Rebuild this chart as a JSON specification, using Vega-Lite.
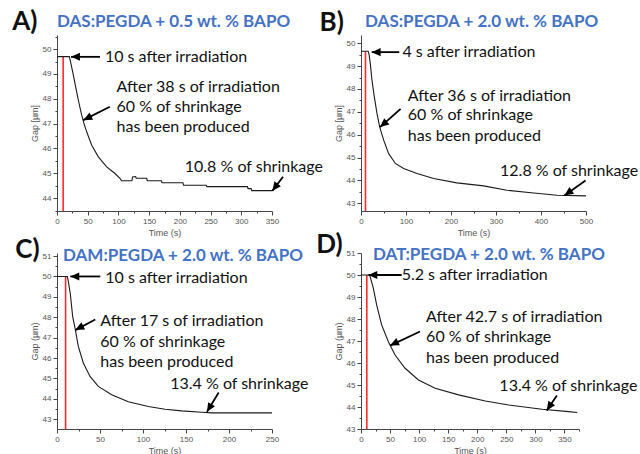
{
  "$schema": "https://vega.github.io/schema/vega-lite/v6.json",
  "padding": {"left": 12, "top": 9, "right": 0, "bottom": 0},
  "background": "white",
  "config": {
    "view": {"stroke": null},
    "axis": {"grid": false, "labelFont": "Liberation Sans", "labelFontSize": 8, "labelColor": "#555", "titleFont": "Liberation Sans", "titleFontSize": 9, "titleColor": "#555", "titleFontWeight": "normal", "domainColor": "#444", "tickColor": "#444", "labelFlush": false, "labelOverlap": false, "labelPadding": 2, "titlePadding": 3, "tickCount": 100}
  },
  "datasets": {
    "curveA": [
      {"t":0,"gap":49.7},{"t":20,"gap":49.7},{"t":22,"gap":49.5},{"t":26.6,"gap":48.95},{"t":32,"gap":48.28},{"t":36,"gap":47.8},{"t":40.2,"gap":47.34},{"t":44,"gap":47.0},{"t":48.3,"gap":46.67},{"t":56.5,"gap":46.13},{"t":67.3,"gap":45.66},{"t":80.9,"gap":45.26},{"t":94.4,"gap":44.99},{"t":102.5,"gap":44.79},{"t":105.2,"gap":44.7},{"t":122,"gap":44.7},{"t":123,"gap":44.85},{"t":128,"gap":44.87},{"t":129,"gap":44.8},{"t":146,"gap":44.8},{"t":147,"gap":44.7},{"t":170,"gap":44.7},{"t":171,"gap":44.62},{"t":205,"gap":44.62},{"t":206,"gap":44.52},{"t":243,"gap":44.52},{"t":244,"gap":44.46},{"t":310,"gap":44.46},{"t":311,"gap":44.38},{"t":316,"gap":44.38},{"t":317,"gap":44.3},{"t":350,"gap":44.3}
    ],
    "curveB": [
      {"t":0,"gap":49.65},{"t":16,"gap":49.65},{"t":18,"gap":49.5},{"t":20.7,"gap":49.11},{"t":24.4,"gap":48.38},{"t":29.6,"gap":47.65},{"t":35.6,"gap":46.92},{"t":41.5,"gap":46.34},{"t":50.4,"gap":45.76},{"t":61.5,"gap":45.17},{"t":76.3,"gap":44.74},{"t":94.8,"gap":44.52},{"t":124.4,"gap":44.3},{"t":161.5,"gap":44.08},{"t":213,"gap":43.89},{"t":272.6,"gap":43.76},{"t":324,"gap":43.57},{"t":383.7,"gap":43.45},{"t":435.6,"gap":43.35},{"t":500,"gap":43.32}
    ],
    "curveC": [
      {"t":0,"gap":50},{"t":12,"gap":50},{"t":13,"gap":49.8},{"t":15.5,"gap":49.14},{"t":18.2,"gap":48.04},{"t":21.3,"gap":47.39},{"t":24.8,"gap":46.57},{"t":30.6,"gap":45.76},{"t":38.4,"gap":45.1},{"t":48,"gap":44.61},{"t":63.6,"gap":44.2},{"t":82.9,"gap":43.86},{"t":106.2,"gap":43.62},{"t":125.6,"gap":43.49},{"t":145,"gap":43.41},{"t":168.3,"gap":43.34},{"t":180,"gap":43.31},{"t":250,"gap":43.31}
    ],
    "curveD": [
      {"t":0,"gap":50},{"t":15,"gap":50},{"t":17,"gap":49.8},{"t":21.2,"gap":49.4},{"t":26.9,"gap":48.64},{"t":35.5,"gap":47.73},{"t":47.1,"gap":46.97},{"t":58.6,"gap":46.36},{"t":75.9,"gap":45.76},{"t":98.8,"gap":45.23},{"t":127.6,"gap":44.85},{"t":167.8,"gap":44.55},{"t":213.8,"gap":44.27},{"t":254,"gap":44.09},{"t":311.4,"gap":43.9},{"t":357,"gap":43.79},{"t":372,"gap":43.75}
    ],
    "textA": [
      {"t":78,"gap":49.69,"label":"10 s after irradiation"},
      {"t":97,"gap":48.48,"label":"After 38 s of irradiation"},
      {"t":97,"gap":47.68,"label":"60 % of shrinkage"},
      {"t":97,"gap":46.87,"label":"has been produced"},
      {"t":208,"gap":45.26,"label":"10.8 % of shrinkage"}
    ],
    "textB": [
      {"t":92,"gap":49.61,"label":"4 s after irradiation"},
      {"t":104,"gap":47.71,"label":"After 36 s of irradiation"},
      {"t":104,"gap":46.84,"label":"60 % of shrinkage"},
      {"t":104,"gap":45.92,"label":"has been produced"},
      {"t":309,"gap":44.43,"label":"12.8 % of shrinkage"}
    ],
    "textC": [
      {"t":56.2,"gap":49.9,"label":"10 s after irradiation"},
      {"t":50.3,"gap":47.81,"label":"After 17 s of irradiation"},
      {"t":50.3,"gap":46.79,"label":"60 % of shrinkage"},
      {"t":50.3,"gap":45.81,"label":"has been produced"},
      {"t":131.7,"gap":44.75,"label":"13.4 % of shrinkage"}
    ],
    "textD": [
      {"t":70,"gap":50.02,"label":"5.2 s after irradiation"},
      {"t":112,"gap":48.08,"label":"After 42.7 s of irradiation"},
      {"t":112,"gap":47.17,"label":"60 % of shrinkage"},
      {"t":112,"gap":46.21,"label":"has been produced"},
      {"t":238,"gap":44.97,"label":"13.4 % of shrinkage"}
    ],
    "titleA": [{"t":0,"gap":51.1,"label":"DAS:PEGDA + 0.5 wt. % BAPO"}],
    "titleB": [{"t":9,"gap":50.93,"label":"DAS:PEGDA + 2.0 wt. % BAPO"}],
    "titleC": [{"t":7,"gap":51.0,"label":"DAM:PEGDA + 2.0 wt. % BAPO"}],
    "titleD": [{"t":20.6,"gap":50.91,"label":"DAT:PEGDA + 2.0 wt. % BAPO"}],
    "arrowA": [
      {"t":70,"gap":49.69,"t2":22.8,"gap2":49.69,"angle":270},
      {"t":86,"gap":47.68,"t2":42.8,"gap2":47.14,"angle":243.5},
      {"t":368,"gap":44.86,"t2":350.5,"gap2":44.29,"angle":217}
    ],
    "arrowB": [
      {"t":85,"gap":49.61,"t2":23.8,"gap2":49.61,"angle":270},
      {"t":88,"gap":47.13,"t2":42.2,"gap2":46.33,"angle":229.7},
      {"t":499,"gap":43.99,"t2":452,"gap2":43.34,"angle":235.3}
    ],
    "arrowC": [
      {"t":50.3,"gap":50.0,"t2":15.5,"gap2":50.0,"angle":270},
      {"t":44.5,"gap":47.89,"t2":21.3,"gap2":47.37,"angle":242},
      {"t":188,"gap":44.31,"t2":174.4,"gap2":43.36,"angle":211}
    ],
    "arrowD": [
      {"t":70,"gap":50,"t2":12.6,"gap2":50,"angle":270},
      {"t":101.5,"gap":47.43,"t2":50,"gap2":46.79,"angle":243.7},
      {"t":337,"gap":44.52,"t2":319.5,"gap2":43.84,"angle":213.7}
    ],
    "redA": [{"t":10,"gap":49.7}],
    "redB": [{"t":10,"gap":49.65}],
    "redC": [{"t":10,"gap":50}],
    "redD": [{"t":10,"gap":50}],
    "letterA": [{"t":-73,"gap":51.09,"label":"A)"}],
    "letterB": [{"t":-92,"gap":50.9,"label":"B)"}],
    "letterC": [{"t":-48.5,"gap":51.31,"label":"C)"}],
    "letterD": [{"t":-77,"gap":51.35,"label":"D)"}]
  },
  "columns": 2,
  "spacing": {"row": 42, "column": 89},
  "bounds": "flush",
  "concat": [
        {
          "width": 215, "height": 176,
          "layer": [
            {"data": {"name": "redA"}, "mark": {"type": "rule", "color": "#ff2a2a", "strokeWidth": 1.6},
             "encoding": {
               "x": {"field": "t", "type": "quantitative", "scale": {"domain": [0, 350], "nice": false},
                     "axis": {"title": "Time (s)", "tickCount": 100, "labelOverlap": false, "values": [0,25,50,75,100,125,150,175,200,225,250,275,300,325,350], "labelExpr": "datum.value % 50 === 0 ? '' + datum.value : ''", "tickSize": {"condition": {"test": "datum.value % 50 === 0", "value": 4}, "value": 2}}},
               "y": {"field": "gap", "type": "quantitative", "scale": {"domain": [43.48, 50.57], "nice": false, "zero": false},
                     "axis": {"title": "Gap [µm]", "tickCount": 100, "labelOverlap": false, "values": [43.5,44,44.5,45,45.5,46,46.5,47,47.5,48,48.5,49,49.5,50,50.5], "labelExpr": "datum.value % 1 === 0 ? '' + datum.value : ''", "tickSize": {"condition": {"test": "datum.value % 1 === 0", "value": 4}, "value": 2}}},
               "y2": {"value": "height"}}},
            {"data": {"name": "curveA"}, "mark": {"type": "line", "color": "#1a1a1a", "strokeWidth": 1.1},
             "encoding": {"x": {"field": "t", "type": "quantitative"}, "y": {"field": "gap", "type": "quantitative"}}},
            {"data": {"name": "arrowA"}, "mark": {"type": "rule", "color": "black", "strokeWidth": 1.8, "clip": false},
             "encoding": {"x": {"field": "t", "type": "quantitative"}, "y": {"field": "gap", "type": "quantitative"}, "x2": {"field": "t2"}, "y2": {"field": "gap2"}}},
            {"data": {"name": "arrowA"}, "mark": {"type": "point", "shape": "M0,0L-0.45,1L0.45,1Z", "filled": true, "color": "black", "opacity": 1, "size": 320, "clip": false},
             "encoding": {"x": {"field": "t2", "type": "quantitative"}, "y": {"field": "gap2", "type": "quantitative"}, "angle": {"field": "angle", "type": "quantitative", "scale": null}}},
            {"data": {"name": "textA"}, "mark": {"type": "text", "align": "left", "baseline": "middle", "font": "Lato", "fontSize": 16, "color": "#111", "clip": false},
             "encoding": {"x": {"field": "t", "type": "quantitative"}, "y": {"field": "gap", "type": "quantitative"}, "text": {"field": "label", "type": "nominal"}}},
            {"data": {"name": "titleA"}, "mark": {"type": "text", "align": "left", "baseline": "middle", "font": "Lato", "fontSize": 17, "fontWeight": "bold", "color": "#4472C4", "clip": false},
             "encoding": {"x": {"field": "t", "type": "quantitative"}, "y": {"field": "gap", "type": "quantitative"}, "text": {"field": "label", "type": "nominal"}}},
            {"data": {"name": "letterA"}, "mark": {"type": "text", "align": "left", "baseline": "middle", "font": "Lato", "fontSize": 26, "fontWeight": "bold", "color": "#111", "clip": false},
             "encoding": {"x": {"field": "t", "type": "quantitative"}, "y": {"field": "gap", "type": "quantitative"}, "text": {"field": "label", "type": "nominal"}}}
          ]
        },
        {
          "width": 225, "height": 176,
          "layer": [
            {"data": {"name": "redB"}, "mark": {"type": "rule", "color": "#ff2a2a", "strokeWidth": 1.6},
             "encoding": {
               "x": {"field": "t", "type": "quantitative", "scale": {"domain": [0, 500], "nice": false},
                     "axis": {"title": "Time (s)", "tickCount": 100, "labelOverlap": false, "values": [0,50,100,150,200,250,300,350,400,450,500], "labelExpr": "datum.value % 100 === 0 ? '' + datum.value : ''", "tickSize": {"condition": {"test": "datum.value % 100 === 0", "value": 4}, "value": 2}}},
               "y": {"field": "gap", "type": "quantitative", "scale": {"domain": [42.66, 50.36], "nice": false, "zero": false},
                     "axis": {"title": "Gap [µm]", "tickCount": 100, "labelOverlap": false, "values": [43,43.5,44,44.5,45,45.5,46,46.5,47,47.5,48,48.5,49,49.5,50], "labelExpr": "datum.value % 1 === 0 ? '' + datum.value : ''", "tickSize": {"condition": {"test": "datum.value % 1 === 0", "value": 4}, "value": 2}}},
               "y2": {"value": "height"}}},
            {"data": {"name": "curveB"}, "mark": {"type": "line", "color": "#1a1a1a", "strokeWidth": 1.1},
             "encoding": {"x": {"field": "t", "type": "quantitative"}, "y": {"field": "gap", "type": "quantitative"}}},
            {"data": {"name": "arrowB"}, "mark": {"type": "rule", "color": "black", "strokeWidth": 1.8, "clip": false},
             "encoding": {"x": {"field": "t", "type": "quantitative"}, "y": {"field": "gap", "type": "quantitative"}, "x2": {"field": "t2"}, "y2": {"field": "gap2"}}},
            {"data": {"name": "arrowB"}, "mark": {"type": "point", "shape": "M0,0L-0.45,1L0.45,1Z", "filled": true, "color": "black", "opacity": 1, "size": 320, "clip": false},
             "encoding": {"x": {"field": "t2", "type": "quantitative"}, "y": {"field": "gap2", "type": "quantitative"}, "angle": {"field": "angle", "type": "quantitative", "scale": null}}},
            {"data": {"name": "textB"}, "mark": {"type": "text", "align": "left", "baseline": "middle", "font": "Lato", "fontSize": 16, "color": "#111", "clip": false},
             "encoding": {"x": {"field": "t", "type": "quantitative"}, "y": {"field": "gap", "type": "quantitative"}, "text": {"field": "label", "type": "nominal"}}},
            {"data": {"name": "titleB"}, "mark": {"type": "text", "align": "left", "baseline": "middle", "font": "Lato", "fontSize": 17, "fontWeight": "bold", "color": "#4472C4", "clip": false},
             "encoding": {"x": {"field": "t", "type": "quantitative"}, "y": {"field": "gap", "type": "quantitative"}, "text": {"field": "label", "type": "nominal"}}},
            {"data": {"name": "letterB"}, "mark": {"type": "text", "align": "left", "baseline": "middle", "font": "Lato", "fontSize": 26, "fontWeight": "bold", "color": "#111", "clip": false},
             "encoding": {"x": {"field": "t", "type": "quantitative"}, "y": {"field": "gap", "type": "quantitative"}, "text": {"field": "label", "type": "nominal"}}}
          ]
        },
        {
          "width": 215, "height": 176,
          "layer": [
            {"data": {"name": "redC"}, "mark": {"type": "rule", "color": "#ff2a2a", "strokeWidth": 1.6},
             "encoding": {
               "x": {"field": "t", "type": "quantitative", "scale": {"domain": [0, 250], "nice": false},
                     "axis": {"title": "Time (s)", "tickCount": 100, "labelOverlap": false, "values": [0,25,50,75,100,125,150,175,200,225,250], "labelExpr": "datum.value % 50 === 0 ? '' + datum.value : ''", "tickSize": {"condition": {"test": "datum.value % 50 === 0", "value": 4}, "value": 2}}},
               "y": {"field": "gap", "type": "quantitative", "scale": {"domain": [42.52, 51.15], "nice": false, "zero": false},
                     "axis": {"title": "Gap (µm)", "tickCount": 100, "labelOverlap": false, "values": [43,43.5,44,44.5,45,45.5,46,46.5,47,47.5,48,48.5,49,49.5,50,50.5,51], "labelExpr": "datum.value % 1 === 0 ? '' + datum.value : ''", "tickSize": {"condition": {"test": "datum.value % 1 === 0", "value": 4}, "value": 2}}},
               "y2": {"value": "height"}}},
            {"data": {"name": "curveC"}, "mark": {"type": "line", "color": "#1a1a1a", "strokeWidth": 1.1},
             "encoding": {"x": {"field": "t", "type": "quantitative"}, "y": {"field": "gap", "type": "quantitative"}}},
            {"data": {"name": "arrowC"}, "mark": {"type": "rule", "color": "black", "strokeWidth": 1.8, "clip": false},
             "encoding": {"x": {"field": "t", "type": "quantitative"}, "y": {"field": "gap", "type": "quantitative"}, "x2": {"field": "t2"}, "y2": {"field": "gap2"}}},
            {"data": {"name": "arrowC"}, "mark": {"type": "point", "shape": "M0,0L-0.45,1L0.45,1Z", "filled": true, "color": "black", "opacity": 1, "size": 320, "clip": false},
             "encoding": {"x": {"field": "t2", "type": "quantitative"}, "y": {"field": "gap2", "type": "quantitative"}, "angle": {"field": "angle", "type": "quantitative", "scale": null}}},
            {"data": {"name": "textC"}, "mark": {"type": "text", "align": "left", "baseline": "middle", "font": "Lato", "fontSize": 16, "color": "#111", "clip": false},
             "encoding": {"x": {"field": "t", "type": "quantitative"}, "y": {"field": "gap", "type": "quantitative"}, "text": {"field": "label", "type": "nominal"}}},
            {"data": {"name": "titleC"}, "mark": {"type": "text", "align": "left", "baseline": "middle", "font": "Lato", "fontSize": 17, "fontWeight": "bold", "color": "#4472C4", "clip": false},
             "encoding": {"x": {"field": "t", "type": "quantitative"}, "y": {"field": "gap", "type": "quantitative"}, "text": {"field": "label", "type": "nominal"}}},
            {"data": {"name": "letterC"}, "mark": {"type": "text", "align": "left", "baseline": "middle", "font": "Lato", "fontSize": 26, "fontWeight": "bold", "color": "#111", "clip": false},
             "encoding": {"x": {"field": "t", "type": "quantitative"}, "y": {"field": "gap", "type": "quantitative"}, "text": {"field": "label", "type": "nominal"}}}
          ]
        },
        {
          "width": 218, "height": 176,
          "layer": [
            {"data": {"name": "redD"}, "mark": {"type": "rule", "color": "#ff2a2a", "strokeWidth": 1.6},
             "encoding": {
               "x": {"field": "t", "type": "quantitative", "scale": {"domain": [0, 375], "nice": false},
                     "axis": {"title": "Time (s)", "tickCount": 100, "labelOverlap": false, "values": [0,25,50,75,100,125,150,175,200,225,250,275,300,325,350,375], "labelExpr": "datum.value % 50 === 0 ? '' + datum.value : ''", "tickSize": {"condition": {"test": "datum.value % 50 === 0", "value": 4}, "value": 2}}},
               "y": {"field": "gap", "type": "quantitative", "scale": {"domain": [43, 51], "nice": false, "zero": false},
                     "axis": {"title": "Gap (µm)", "tickCount": 100, "labelOverlap": false, "values": [43,43.5,44,44.5,45,45.5,46,46.5,47,47.5,48,48.5,49,49.5,50,50.5,51], "labelExpr": "datum.value % 1 === 0 ? '' + datum.value : ''", "tickSize": {"condition": {"test": "datum.value % 1 === 0", "value": 4}, "value": 2}}},
               "y2": {"value": "height"}}},
            {"data": {"name": "curveD"}, "mark": {"type": "line", "color": "#1a1a1a", "strokeWidth": 1.1},
             "encoding": {"x": {"field": "t", "type": "quantitative"}, "y": {"field": "gap", "type": "quantitative"}}},
            {"data": {"name": "arrowD"}, "mark": {"type": "rule", "color": "black", "strokeWidth": 1.8, "clip": false},
             "encoding": {"x": {"field": "t", "type": "quantitative"}, "y": {"field": "gap", "type": "quantitative"}, "x2": {"field": "t2"}, "y2": {"field": "gap2"}}},
            {"data": {"name": "arrowD"}, "mark": {"type": "point", "shape": "M0,0L-0.45,1L0.45,1Z", "filled": true, "color": "black", "opacity": 1, "size": 320, "clip": false},
             "encoding": {"x": {"field": "t2", "type": "quantitative"}, "y": {"field": "gap2", "type": "quantitative"}, "angle": {"field": "angle", "type": "quantitative", "scale": null}}},
            {"data": {"name": "textD"}, "mark": {"type": "text", "align": "left", "baseline": "middle", "font": "Lato", "fontSize": 16, "color": "#111", "clip": false},
             "encoding": {"x": {"field": "t", "type": "quantitative"}, "y": {"field": "gap", "type": "quantitative"}, "text": {"field": "label", "type": "nominal"}}},
            {"data": {"name": "titleD"}, "mark": {"type": "text", "align": "left", "baseline": "middle", "font": "Lato", "fontSize": 17, "fontWeight": "bold", "color": "#4472C4", "clip": false},
             "encoding": {"x": {"field": "t", "type": "quantitative"}, "y": {"field": "gap", "type": "quantitative"}, "text": {"field": "label", "type": "nominal"}}},
            {"data": {"name": "letterD"}, "mark": {"type": "text", "align": "left", "baseline": "middle", "font": "Lato", "fontSize": 26, "fontWeight": "bold", "color": "#111", "clip": false},
             "encoding": {"x": {"field": "t", "type": "quantitative"}, "y": {"field": "gap", "type": "quantitative"}, "text": {"field": "label", "type": "nominal"}}}
          ]
        }
  ]
}
